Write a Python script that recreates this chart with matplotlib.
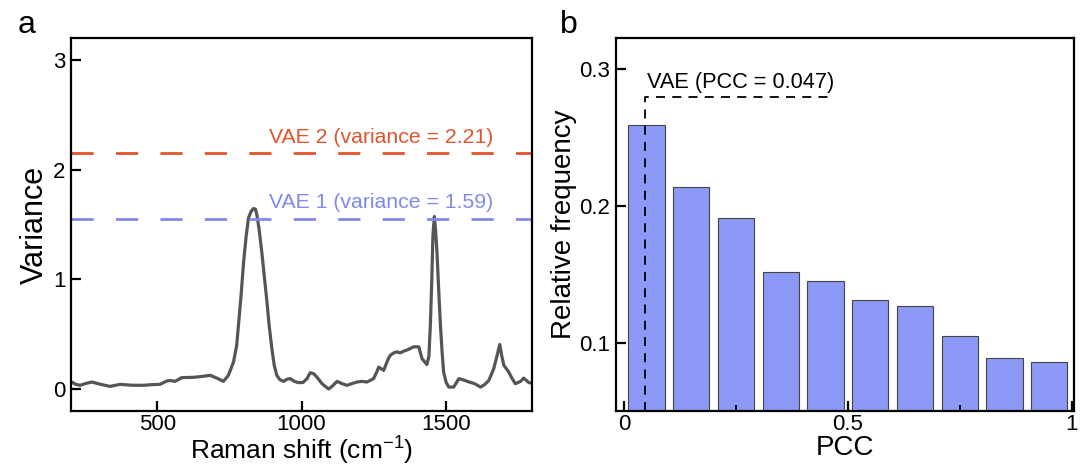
import numpy as np
import matplotlib.pyplot as plt
from matplotlib.ticker import MultipleLocator

plt.rcParams['font.family'] = ['Liberation Sans', 'DejaVu Sans']
plt.rcParams['mathtext.default'] = 'regular'

# panel a: variance spectrum
raman_shift = [202, 215, 231, 250, 272, 300, 335, 370, 410, 451, 480, 509, 532, 545, 561,
               584, 625, 655, 683, 706, 729, 746, 764, 775, 781, 790, 799, 808, 816, 825,
               833, 840, 845, 853, 862, 871, 880, 888, 897, 905, 914, 925, 938, 950, 961,
               975, 990, 1005, 1019, 1030, 1042, 1053, 1071, 1094, 1108, 1123, 1140, 1158,
               1175, 1192, 1210, 1227, 1250, 1260, 1268, 1285, 1300, 1308, 1320, 1331,
               1342, 1354, 1370, 1389, 1407, 1418, 1435, 1442, 1447, 1452, 1456, 1461,
               1465, 1470, 1476, 1482, 1488, 1493, 1502, 1511, 1528, 1546, 1560, 1575,
               1600, 1621, 1635, 1650, 1667, 1678, 1688, 1695, 1702, 1719, 1730, 1742,
               1760, 1771, 1789, 1800]
variance = [0.064, 0.045, 0.034, 0.05, 0.064, 0.045, 0.024, 0.043, 0.035, 0.034, 0.04,
            0.043, 0.073, 0.078, 0.07, 0.104, 0.107, 0.115, 0.125, 0.10, 0.07, 0.125,
            0.247, 0.40, 0.58, 0.85, 1.16, 1.40, 1.56, 1.62, 1.645, 1.64, 1.59, 1.45,
            1.25, 1.02, 0.795, 0.57, 0.369, 0.22, 0.125, 0.085, 0.07, 0.09, 0.095, 0.07,
            0.058, 0.06, 0.095, 0.149, 0.14, 0.11, 0.049, 0.0, 0.03, 0.07, 0.05, 0.034,
            0.05, 0.064, 0.07, 0.064, 0.095, 0.15, 0.20, 0.17, 0.27, 0.308, 0.33, 0.339,
            0.33, 0.345, 0.36, 0.385, 0.385, 0.278, 0.223, 0.30, 0.58, 1.0, 1.405, 1.573,
            1.45, 1.25, 0.9, 0.58, 0.33, 0.155, 0.06, 0.018, 0.018, 0.095, 0.085, 0.07,
            0.05, 0.018, 0.04, 0.079, 0.186, 0.30, 0.406, 0.30, 0.217, 0.155, 0.10, 0.049,
            0.07, 0.10, 0.058, 0.055]
vae_levels = [2.15, 1.55]
vae_labels = ['VAE 2 (variance = 2.21)', 'VAE 1 (variance = 1.59)']
vae_colors = ['#E4532B', '#8089EC']

# panel b: PCC histogram
pcc_centers = [0.05, 0.15, 0.25, 0.35, 0.45, 0.55, 0.65, 0.75, 0.85, 0.95]
rel_freq = [0.259, 0.214, 0.191, 0.152, 0.145, 0.131, 0.127, 0.105, 0.0885, 0.086]
vae_pcc = 0.047

fig = plt.figure(figsize=(10.81, 4.68), dpi=100)
ax1 = fig.add_axes([0.0657, 0.1218, 0.4265, 0.797])
ax2 = fig.add_axes([0.5698, 0.1218, 0.4237, 0.797])

for ax in (ax1, ax2):
    for s in ax.spines.values():
        s.set_linewidth(1.6)
    ax.tick_params(direction='in', width=1.6, length=7, labelsize=16, pad=4)
    ax.tick_params(axis='x', pad=2)
    ax.tick_params(which='minor', direction='in', width=1.4, length=4)

# ---- a
ax1.plot(raman_shift, variance, color='#555555', lw=2.3)
for lev, lab, col in zip(vae_levels, vae_labels, vae_colors):
    ax1.axhline(lev, color=col, lw=2.0, dashes=(8, 8))
    ax1.text(1665, lev + 0.06, lab, color=col, fontsize=15.3, ha='right', va='bottom')
ax1.set_xlim(200, 1800)
ax1.set_ylim(-0.2, 3.2)
ax1.set_xticks([500, 1000, 1500])
ax1.set_yticks([0, 1, 2, 3])
ax1.set_xlabel('Raman shift (cm$^{-1}$)', fontsize=19, labelpad=0)
ax1.set_ylabel('Variance', fontsize=22, labelpad=2)

# ---- b
ax2.bar(pcc_centers, rel_freq, width=0.081, color='#8C99F6', edgecolor='#444444', linewidth=0.8)
ax2.plot([vae_pcc, vae_pcc, 0.466], [0.05, 0.2795, 0.2795], color='black', lw=1.3, dashes=(5, 4))
ax2.text(vae_pcc + 0.004, 0.2825, 'VAE (PCC = 0.047)', fontsize=15.7, ha='left', va='bottom')
ax2.set_xlim(-0.018, 1.005)
ax2.set_ylim(0.05, 0.323)
ax2.set_xticks([0, 0.5, 1])
ax2.set_xticklabels(['0', '0.5', '1'])
ax2.xaxis.set_minor_locator(MultipleLocator(0.25))
ax2.set_yticks([0.1, 0.2, 0.3])
ax2.set_xlabel('PCC', fontsize=20, labelpad=0)
ax2.set_ylabel('Relative frequency', fontsize=20, labelpad=2)

fig.text(0.016, 0.93, 'a', fontsize=23)
fig.text(0.518, 0.93, 'b', fontsize=23)

fig.savefig('out.png', dpi=100)
